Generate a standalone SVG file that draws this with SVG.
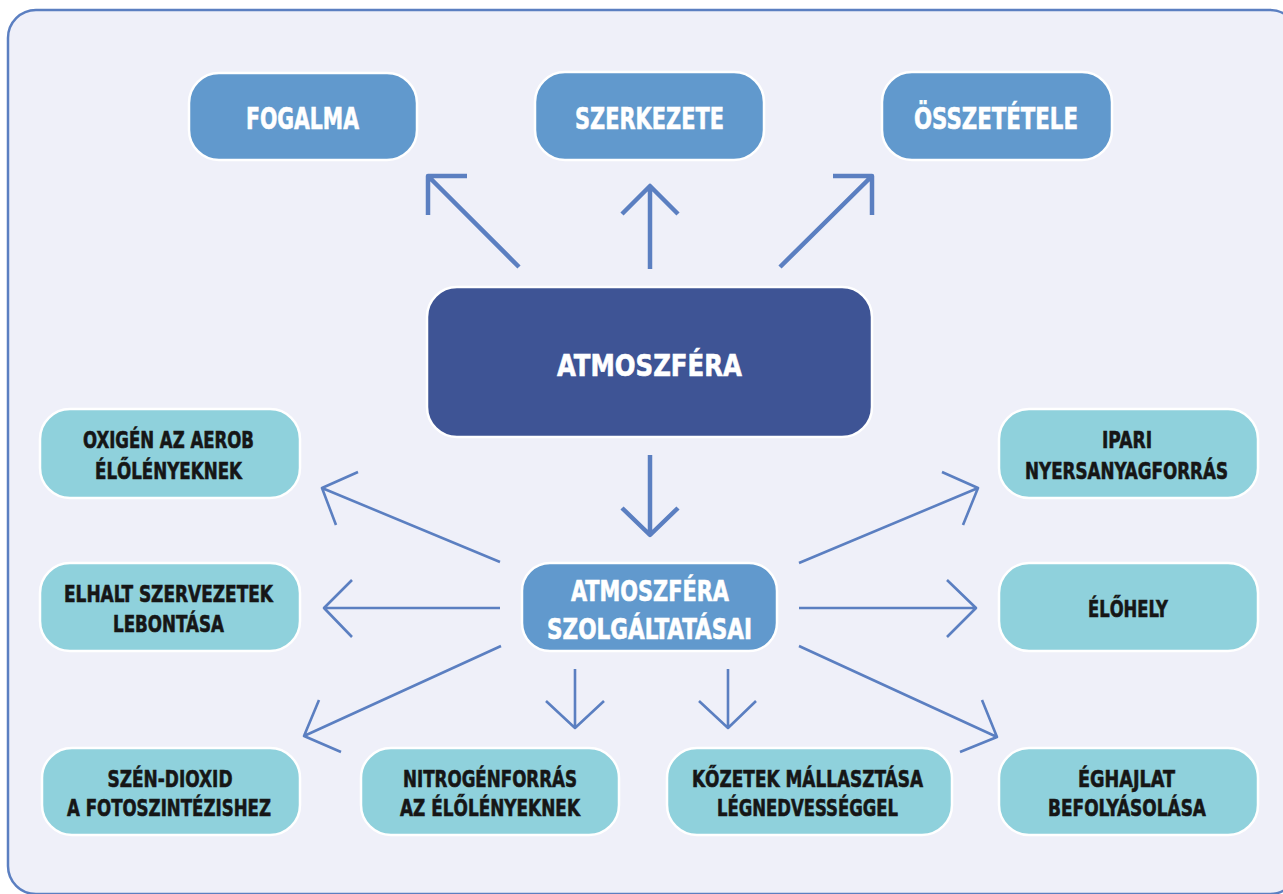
<svg xmlns="http://www.w3.org/2000/svg" width="1283" height="894" viewBox="0 0 1283 894">
<style>
.frame{fill:#eff0f9;stroke:#5b7fc1;stroke-width:2.5}
.top{fill:#6199cd;stroke:#ffffff;stroke-width:2.5}
.main{fill:#3e5495;stroke:#ffffff;stroke-width:2.5}
.svc{fill:#6199cd;stroke:#ffffff;stroke-width:2.5}
.leaf{fill:#8fd1dc;stroke:#ffffff;stroke-width:2.5}
.tw{fill:#ffffff;stroke:#ffffff;stroke-width:0.6;font-family:"Liberation Sans Narrow","DejaVu Sans Condensed","Liberation Sans",sans-serif;font-weight:bold;font-stretch:condensed;text-anchor:middle}
.td{fill:#161616;stroke:#161616;stroke-width:0.6;font-family:"Liberation Sans Narrow","DejaVu Sans Condensed","Liberation Sans",sans-serif;font-weight:bold;font-stretch:condensed;text-anchor:middle;font-size:23.5px}
.big{font-size:31px}
.mid{font-size:29px}
.thick{fill:none;stroke:#5b7fc1;stroke-width:4.5;stroke-linecap:butt;stroke-linejoin:round}
.thin{fill:none;stroke:#5b7fc1;stroke-width:2.6;stroke-linecap:butt;stroke-linejoin:round}
</style>
<rect class="frame" x="8" y="10" width="1290" height="884" rx="28"/>
<g id="connectors">
<path class="thick" d="M519,267 L428,176 M428,215 L428,176 L467,176"/>
<path class="thick" d="M650,269 L650,186 M622,214 L650,186 L678,214"/>
<path class="thick" d="M780,267 L872,176 M833,176 L872,176 L872,215"/>
<path class="thick" d="M650,455 L650,535 M622,508 L650,535 L678,508"/>
<path class="thin" d="M500,562 L322,488 M358,472 L322,488 L336,525"/>
<path class="thin" d="M500,608 L324,608 M352,580 L324,608 L352,637"/>
<path class="thin" d="M501,646 L304,736 M319,700 L304,736 L341,752"/>
<path class="thin" d="M575,669 L575,728 M546,701 L575,728 L604,701"/>
<path class="thin" d="M728,669 L728,728 M699,701 L728,728 L756,701"/>
<path class="thin" d="M799,646 L997,737 M982,700 L997,737 L960,752"/>
<path class="thin" d="M799,563 L978,488 M942,472 L978,488 L963,525"/>
<path class="thin" d="M799,608 L976,608 M947,580 L976,608 L947,637"/>
</g>
<g id="fogalma"><rect class="top" x="189" y="73" width="228" height="87" rx="30"/><text class="tw big" x="302.5" y="129" textLength="113" lengthAdjust="spacingAndGlyphs">FOGALMA</text></g>
<g id="szerkezete"><rect class="top" x="535" y="72" width="229" height="88" rx="30"/><text class="tw big" x="649.5" y="129" textLength="149" lengthAdjust="spacingAndGlyphs">SZERKEZETE</text></g>
<g id="osszetetele"><rect class="top" x="882" y="72" width="230" height="88" rx="30"/><text class="tw big" x="996" y="129" textLength="164" lengthAdjust="spacingAndGlyphs">ÖSSZETÉTELE</text></g>
<g id="atmoszfera"><rect class="main" x="427" y="287" width="445" height="150" rx="30"/><text class="tw big" x="649.5" y="376" textLength="185" lengthAdjust="spacingAndGlyphs">ATMOSZFÉRA</text></g>
<g id="szolgaltatasai"><rect class="svc" x="522" y="563" width="255" height="88" rx="28"/><text class="tw mid" x="650" y="601" textLength="158" lengthAdjust="spacingAndGlyphs">ATMOSZFÉRA</text><text class="tw mid" x="649.5" y="639" textLength="205" lengthAdjust="spacingAndGlyphs">SZOLGÁLTATÁSAI</text></g>
<g id="oxigen"><rect class="leaf" x="40" y="409" width="260" height="89" rx="30"/><text class="td" x="168.5" y="448" textLength="171" lengthAdjust="spacingAndGlyphs">OXIGÉN AZ AEROB</text><text class="td" x="168.5" y="479" textLength="147" lengthAdjust="spacingAndGlyphs">ÉLŐLÉNYEKNEK</text></g>
<g id="elhalt"><rect class="leaf" x="40" y="563" width="260" height="88" rx="30"/><text class="td" x="168.5" y="602" textLength="209" lengthAdjust="spacingAndGlyphs">ELHALT SZERVEZETEK</text><text class="td" x="168.5" y="632" textLength="111" lengthAdjust="spacingAndGlyphs">LEBONTÁSA</text></g>
<g id="ipari"><rect class="leaf" x="999" y="409" width="259" height="89" rx="30"/><text class="td" x="1127" y="448" textLength="50" lengthAdjust="spacingAndGlyphs">IPARI</text><text class="td" x="1126.5" y="479" textLength="203" lengthAdjust="spacingAndGlyphs">NYERSANYAGFORRÁS</text></g>
<g id="elohely"><rect class="leaf" x="999" y="563" width="259" height="88" rx="30"/><text class="td" x="1128" y="617" textLength="80" lengthAdjust="spacingAndGlyphs">ÉLŐHELY</text></g>
<g id="szendioxid"><rect class="leaf" x="42" y="748" width="258" height="87" rx="30"/><text class="td" x="170" y="787" textLength="125" lengthAdjust="spacingAndGlyphs">SZÉN-DIOXID</text><text class="td" x="169" y="816" textLength="204" lengthAdjust="spacingAndGlyphs">A FOTOSZINTÉZISHEZ</text></g>
<g id="nitrogen"><rect class="leaf" x="361" y="748" width="258" height="87" rx="30"/><text class="td" x="490" y="787" textLength="174" lengthAdjust="spacingAndGlyphs">NITROGÉNFORRÁS</text><text class="td" x="490" y="816" textLength="180" lengthAdjust="spacingAndGlyphs">AZ ÉLŐLÉNYEKNEK</text></g>
<g id="kozetek"><rect class="leaf" x="667" y="748" width="285" height="87" rx="30"/><text class="td" x="807.5" y="787" textLength="231" lengthAdjust="spacingAndGlyphs">KŐZETEK MÁLLASZTÁSA</text><text class="td" x="807.5" y="816" textLength="181" lengthAdjust="spacingAndGlyphs">LÉGNEDVESSÉGGEL</text></g>
<g id="eghajlat"><rect class="leaf" x="999" y="748" width="259" height="87" rx="30"/><text class="td" x="1126.5" y="787" textLength="97" lengthAdjust="spacingAndGlyphs">ÉGHAJLAT</text><text class="td" x="1127" y="816" textLength="158" lengthAdjust="spacingAndGlyphs">BEFOLYÁSOLÁSA</text></g>
</svg>
